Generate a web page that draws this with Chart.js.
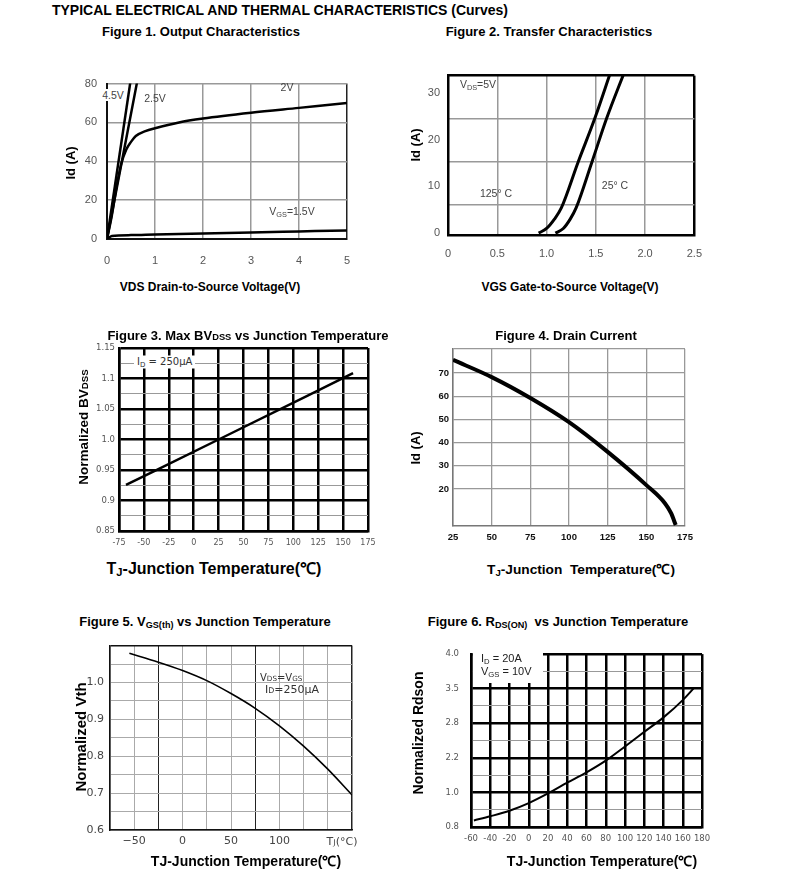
<!DOCTYPE html>
<html>
<head>
<meta charset="utf-8">
<script src="https://cdn.jsdelivr.net/npm/chart.js@4.4.0/dist/chart.umd.min.js"></script>
<style>
  body { margin: 0; background: #fff; }
  #page { position: relative; width: 793px; height: 879px; overflow: hidden; font-family: "Liberation Sans", Arial, sans-serif; }
  canvas { position: absolute; }
  .t { position: absolute; white-space: nowrap; transform: translate(-50%, -50%); font-weight: bold; color: #000; }
  .r { transform: translate(-50%, -50%) rotate(-90deg); }
  .n { position: absolute; white-space: nowrap; transform: translate(-50%, -50%); color: #444; font-size: 10.5px; }
  .nl { position: absolute; white-space: nowrap; transform: translate(0, -50%); color: #333; font-family: "DejaVu Sans"; }
  .s { font-size: 70%; vertical-align: -2px; }
  .m { font-size: 72%; }
</style>
</head>
<body>
<div id="page">
  <canvas id="fig1"></canvas>
  <canvas id="fig2"></canvas>
  <canvas id="fig3"></canvas>
  <canvas id="fig4"></canvas>
  <canvas id="fig5"></canvas>
  <canvas id="fig6"></canvas>

  <div class="t" style="left:280px;top:10px;font-size:14px">TYPICAL ELECTRICAL AND THERMAL CHARACTERISTICS (Curves)</div>

  <!-- figure 1 -->
  <div class="t" style="left:201px;top:31px;font-size:13px">Figure 1. Output Characteristics</div>
  <div class="t r" style="left:70px;top:163px;font-size:13px">Id (A)</div>
  <div class="t" style="left:210px;top:287px;font-size:12px">VDS Drain-to-Source Voltage(V)</div>
  <div class="n" style="left:113px;top:95px;background:#fff">4.5V</div>
  <div class="n" style="left:155px;top:98px">2.5V</div>
  <div class="n" style="left:287px;top:87px">2V</div>
  <div class="n" style="left:292px;top:212px">V<span class="s">GS</span>=1.5V</div>

  <!-- figure 2 -->
  <div class="t" style="left:549px;top:31px;font-size:13px">Figure 2. Transfer Characteristics</div>
  <div class="t r" style="left:415px;top:145px;font-size:13px">Id (A)</div>
  <div class="t" style="left:570px;top:287px;font-size:12px">VGS Gate-to-Source Voltage(V)</div>
  <div class="n" style="left:478px;top:85px">V<span class="s">DS</span>=5V</div>
  <div class="n" style="left:496px;top:193px">125° C</div>
  <div class="n" style="left:615px;top:185px">25° C</div>

  <!-- figure 3 -->
  <div class="t" style="left:248px;top:335px;font-size:13px">Figure 3. Max BV<span class="m">DSS</span> vs Junction Temperature</div>
  <div class="t r" style="left:83px;top:427px;font-size:13.5px">Normalized BV<span class="m">DSS</span></div>
  <div class="t" style="left:214px;top:568px;font-size:16px">T<span class="s">J</span>-Junction Temperature(℃)</div>
  <div class="nl" style="left:134px;top:362px;font-size:10px;background:#fff;padding:0 3px">I<span class="s">D</span> = 250µA</div>

  <!-- figure 4 -->
  <div class="t" style="left:566px;top:335px;font-size:13px">Figure 4. Drain Current</div>
  <div class="t r" style="left:415px;top:448px;font-size:13px">Id (A)</div>
  <div class="t" style="left:581px;top:568px;font-size:13.7px">T<span class="s">J</span>-Junction&nbsp; Temperature(℃)</div>

  <!-- figure 5 -->
  <div class="t" style="left:205px;top:622px;font-size:13px">Figure 5. V<span class="s">GS(th)</span> vs Junction Temperature</div>
  <div class="t r" style="left:80px;top:737px;font-size:15px">Normalized Vth</div>
  <div class="t" style="left:246px;top:860px;font-size:14px">TJ-Junction Temperature(℃)</div>
  <div class="nl" style="left:260px;top:677px;font-size:10px">V<span class="m">DS</span>=V<span class="m">GS</span></div>
  <div class="nl" style="left:265px;top:689px;font-size:11px">I<span class="m">D</span>=250µA</div>
  <div class="n" style="left:342px;top:841px;font-size:11px;font-family:'DejaVu Sans'">T<span class="m">J</span>(°C)</div>

  <!-- figure 6 -->
  <div class="t" style="left:558px;top:622px;font-size:13px">Figure 6. R<span class="s">DS(ON)</span>&nbsp; vs Junction Temperature</div>
  <div class="t r" style="left:418px;top:733px;font-size:14px">Normalized Rdson</div>
  <div class="t" style="left:602px;top:860px;font-size:14px">TJ-Junction Temperature(℃)</div>
  <div style="position:absolute;left:473px;top:649px;width:70px;height:34px;background:#fff"></div>
  <div class="nl" style="left:481px;top:659px;font-size:11px;font-family:'Liberation Sans';color:#222">I<span class="s">D</span> = 20A</div>
  <div class="nl" style="left:481px;top:672px;font-size:11px;font-family:'Liberation Sans';color:#222">V<span class="s">GS</span> = 10V</div>
</div>

<script>
// ---- Figure 1: output characteristics (VDS in V, Id in A)
const f1Vgs45 = [[0, 0], [0.5, 83]];
const f1Vgs25 = [[0, 0], [0.64, 82.5]];
const f1Vds2 = [0, 0.1, 0.2, 0.3, 0.4, 0.5, 0.6, 0.8, 1, 1.5, 2, 3, 4, 5];
const f1Id2 = [0, 12, 27, 39, 46, 50, 53, 55.5, 57, 60, 62, 65, 67.5, 70];
const f1Vds15 = [0, 0.1, 0.5, 1, 2, 3, 4, 5];
const f1Id15 = [0, 1.6, 2, 2.3, 2.8, 3.4, 3.9, 4.4];

// ---- Figure 2: transfer characteristics (VGS in V, Id in A)
const f2Vgs125 = [0.92, 1.0, 1.08, 1.15, 1.32, 1.49, 1.65];
const f2Id125 = [0, 1, 3, 5.4, 15.2, 24.6, 34.5];
const f2Vgs25 = [1.09, 1.17, 1.24, 1.30, 1.46, 1.61, 1.79];
const f2Id25 = [0, 1, 3, 5.4, 15.2, 24.6, 34.5];
const f2YTicks = [0, 10, 20, 30];
const f2YGrid = [6, 15.2, 24.4];

// ---- Figure 3: normalized BVDSS vs Tj
const f3Temp = [-68, 25, 160];
const f3Bv = [0.9256, 1.0, 1.1088];
const f3YLabels = ['0.85', '0.9', '0.95', '1.0', '1.05', '1.1', '1.15'];

// ---- Figure 4: drain current vs Tj
const f4Temp = [25, 50, 75, 100, 125, 150, 162, 166, 169];
const f4Id = [75.6, 68.2, 59.2, 48.8, 36, 21.7, 13.9, 9.6, 4.5];
const f4YTicks = [20, 30, 40, 50, 60, 70];

// ---- Figure 5: normalized Vth vs Tj
const f5Temp = [-55, -25, 0, 25, 50, 75, 100, 125, 150, 175];
const f5Vth = [1.079, 1.055, 1.0325, 1.005, 0.97, 0.93, 0.8825, 0.8275, 0.765, 0.695];
const f5XLabels = { '-50': '\u221250', '0': '0', '50': '50', '100': '100' };
const f5YLabels = ['0.6', '0.7', '0.8', '0.9', '1.0', ''];

// ---- Figure 6: normalized Rdson vs Tj (y = position on the evenly spaced grid rows)
const f6Temp = [-57, -40, -20, 0, 20, 40, 60, 80, 100, 120, 140, 160, 172];
const f6Row = [0.19, 0.31, 0.47, 0.69, 0.97, 1.28, 1.58, 1.92, 2.33, 2.75, 3.17, 3.67, 4.03];
const f6YLabels = ['0.8', '1.0', '2.2', '2.8', '3.5', '4.0'];

const pts = (xs, ys) => xs.map((x, i) => ({ x: x, y: ys[i] }));
const steps = (min, step, n) => Array.from({ length: n }, (_, i) => ({ value: +(min + i * step).toFixed(4) }));

function curve(data, width) {
  return {
    data: data, showLine: true, pointRadius: 0, borderColor: '#000', borderWidth: width,
    cubicInterpolationMode: 'monotone', fill: false
  };
}

function plot(id, area, yW, xH, scales, datasets) {
  const padT = 10, padR = 18, padB = 2;
  const w = area.r - area.l + yW + padR;
  const h = area.b - area.t + padT + xH + padB;
  const cv = document.getElementById(id);
  cv.width = w; cv.height = h;
  cv.style.width = w + 'px'; cv.style.height = h + 'px';
  cv.style.left = (area.l - yW) + 'px';
  cv.style.top = (area.t - padT) + 'px';
  Object.keys(scales).forEach((k) => {
    const s = scales[k];
    if (k === 'x') s.afterFit = (sc) => { sc.height = xH; };
    else if (k === 'y') s.afterFit = (sc) => { sc.width = yW; };
    else s.afterFit = (sc) => { sc.width = 0; };
    s.type = 'linear';
    if (k === 'x') { s.ticks.autoSkip = false; s.ticks.maxRotation = 0; s.ticks.minRotation = 0; }
  });
  return new Chart(cv, {
    type: 'scatter',
    data: { datasets: datasets },
    options: {
      responsive: false, animation: false,
      layout: { padding: { top: padT, right: padR, bottom: padB, left: 0 } },
      plugins: { legend: { display: false }, tooltip: { enabled: false } },
      scales: scales
    }
  });
}

const arial = (size, weight) => ({ family: 'Liberation Sans', size: size, weight: weight || 'normal' });
const dejavu = (size) => ({ family: 'DejaVu Sans', size: size });

// Figure 1
plot('fig1', { l: 107, t: 77, r: 347, b: 239 }, 40, 28, {
  x: {
    min: 0, max: 5, afterBuildTicks: (s) => { s.ticks = steps(0, 1, 6); },
    ticks: { padding: 15, color: '#555', font: arial(11) },
    grid: { drawTicks: false, lineWidth: 1.5, color: (c) => (c.tick.value === 5 ? '#222' : '#999') },
    border: { color: '#111', width: 2 }
  },
  y: {
    min: 0, max: 80, afterBuildTicks: (s) => { s.ticks = steps(0, 20, 5); },
    ticks: { padding: 10, color: '#555', font: arial(11) },
    grid: { drawTicks: false, lineWidth: 1.5, color: '#999' },
    border: { color: '#111', width: 2 }
  }
}, [
  curve(f1Vgs45, 2.5), curve(f1Vgs25, 2.5),
  curve(pts(f1Vds2, f1Id2), 2.5), curve(pts(f1Vds15, f1Id15), 2.5)
]);

// Figure 2
plot('fig2', { l: 448, t: 71, r: 696, b: 235 }, 40, 28, {
  x: {
    min: 0, max: 2.5, afterBuildTicks: (s) => { s.ticks = steps(0, 0.5, 6); },
    ticks: { padding: 12, color: '#555', font: arial(11) },
    grid: {
      drawTicks: false,
      lineWidth: (c) => (c.index === 5 ? 2.5 : 1.5),
      color: (c) => (c.index === 5 ? '#000' : '#999')
    },
    border: { color: '#000', width: 2.5 }
  },
  y: {
    min: -0.4, max: 33.75, afterBuildTicks: (s) => { s.ticks = f2YTicks.map((v) => ({ value: v })); },
    ticks: { padding: 8, color: '#555', font: arial(11) },
    grid: { display: false, drawTicks: false },
    border: { color: '#000', width: 2.5 }
  },
  yg: {
    position: 'left', min: -0.4, max: 33.75,
    afterBuildTicks: (s) => { s.ticks = f2YGrid.concat([33.75]).map((v) => ({ value: v })); },
    ticks: { display: false },
    grid: {
      drawTicks: false,
      lineWidth: (c) => (c.tick.value > 33 ? 2.5 : 1.5),
      color: (c) => (c.tick.value > 33 ? '#000' : '#999')
    },
    border: { display: false }
  }
}, [
  curve(pts(f2Vgs125, f2Id125), 3), curve(pts(f2Vgs25, f2Id25), 3)
].map((d) => Object.assign(d, { yAxisID: 'y' })));

// Figure 3
plot('fig3', { l: 119, t: 348, r: 368, b: 531 }, 40, 24, {
  x: {
    min: -75, max: 175, afterBuildTicks: (s) => { s.ticks = steps(-75, 25, 11); },
    ticks: { padding: 7, color: '#555', font: dejavu(8) },
    grid: { drawTicks: false, lineWidth: 2.5, color: '#000' },
    border: { color: '#000', width: 2.5 }
  },
  y: {
    min: 0.85, max: 1.15, afterBuildTicks: (s) => { s.ticks = steps(0.85, 0.025, 13); },
    ticks: { padding: 4, color: '#555', font: dejavu(8.5), callback: (v, i) => (i % 2 === 0 ? f3YLabels[i / 2] : '') },
    grid: {
      drawTicks: false,
      lineWidth: (c) => (c.index % 2 === 0 ? 2.5 : 1),
      color: (c) => (c.index % 2 === 0 ? '#000' : '#999')
    },
    border: { color: '#000', width: 2.5 }
  }
}, [curve(pts(f3Temp, f3Bv), 2.5)]);

// Figure 4
plot('fig4', { l: 453, t: 349, r: 685, b: 526 }, 40, 24, {
  x: {
    min: 25, max: 175, afterBuildTicks: (s) => { s.ticks = steps(25, 25, 7); },
    ticks: { padding: 6, color: '#111', font: arial(9.5, 'bold') },
    grid: { drawTicks: false, lineWidth: 1.3, color: '#999' },
    border: { color: '#777', width: 1.5 }
  },
  y: {
    min: 4.1, max: 80.3, afterBuildTicks: (s) => { s.ticks = f4YTicks.concat([80.3]).map((v) => ({ value: v })); },
    ticks: { padding: 4, color: '#111', font: arial(9.5, 'bold'), callback: (v) => (v > 75 ? '' : v) },
    grid: { drawTicks: false, lineWidth: 1.3, color: '#999' },
    border: { color: '#777', width: 1.5 }
  }
}, [curve(pts(f4Temp, f4Id), 4)]);

// Figure 5
plot('fig5', { l: 110, t: 643, r: 352, b: 830 }, 40, 24, {
  x: {
    min: -75, max: 175, afterBuildTicks: (s) => { s.ticks = steps(-75, 25, 11); },
    ticks: { padding: 5, color: '#444', font: dejavu(11), callback: (v) => (f5XLabels[String(v)] || '') },
    grid: {
      drawTicks: false, lineWidth: (c) => (c.index === 10 ? 1.5 : 1),
      color: (c) => ([2, 6, 10].includes(c.index) ? '#222' : '#aaa')
    },
    border: { color: '#111', width: 1.5 }
  },
  y: {
    min: 0.6, max: 1.1, afterBuildTicks: (s) => { s.ticks = steps(0.6, 0.05, 11); },
    ticks: { padding: 6, color: '#444', font: dejavu(11), callback: (v, i) => (i % 2 === 0 ? f5YLabels[i / 2] : '') },
    grid: {
      drawTicks: false, lineWidth: (c) => (c.index === 10 ? 1.5 : 1),
      color: (c) => (c.index === 10 ? '#111' : '#aaa')
    },
    border: { color: '#111', width: 1.5 }
  }
}, [curve(pts(f5Temp, f5Vth), 1.6)]);

// Figure 6
plot('fig6', { l: 471, t: 647, r: 702, b: 827 }, 40, 24, {
  x: {
    min: -60, max: 180, afterBuildTicks: (s) => { s.ticks = steps(-60, 20, 13); },
    ticks: { padding: 7, color: '#555', font: dejavu(8.5) },
    grid: { drawTicks: false, lineWidth: 2.5, color: '#000' },
    border: { color: '#000', width: 2.5 }
  },
  y: {
    min: 0, max: 5, afterBuildTicks: (s) => { s.ticks = steps(0, 0.5, 11); },
    ticks: { padding: 12, color: '#555', font: dejavu(8.5), callback: (v, i) => (i % 2 === 0 ? f6YLabels[i / 2] : '') },
    grid: {
      drawTicks: false,
      lineWidth: (c) => (c.index % 2 === 0 ? 2.5 : 1),
      color: (c) => (c.index % 2 === 0 ? '#000' : '#999')
    },
    border: { color: '#000', width: 2.5 }
  }
}, [curve(pts(f6Temp, f6Row), 2)]);
</script>
</body>
</html>
